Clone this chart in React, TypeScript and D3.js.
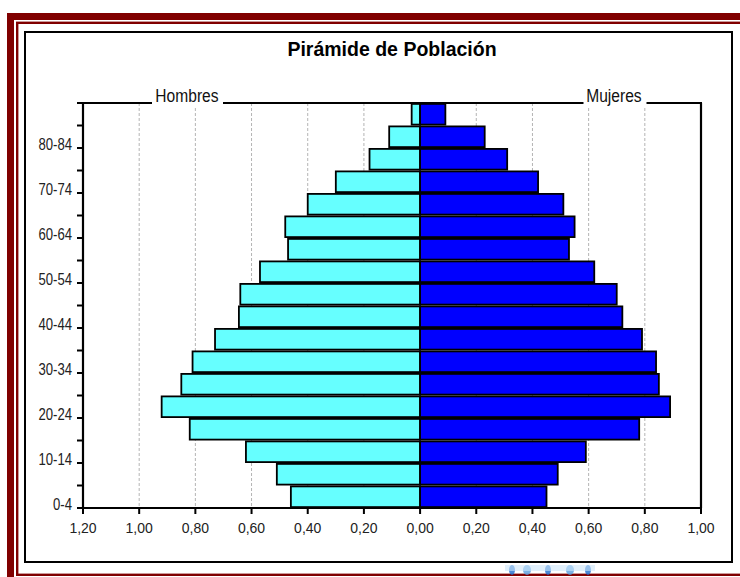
import React from "react";
import * as d3 from "d3";

// grupos de edad, de abajo hacia arriba
const ages = [
  "0-4", "5-9", "10-14", "15-19", "20-24", "25-29", "30-34", "35-39", "40-44",
  "45-49", "50-54", "55-59", "60-64", "65-69", "70-74", "75-79", "80-84", "85+",
];
const hombres = [0.46, 0.51, 0.62, 0.82, 0.92, 0.85, 0.81, 0.73, 0.645, 0.64, 0.57, 0.47, 0.48, 0.4, 0.3, 0.18, 0.11, 0.03];
const mujeres = [0.45, 0.49, 0.59, 0.78, 0.89, 0.85, 0.84, 0.79, 0.72, 0.7, 0.62, 0.53, 0.55, 0.51, 0.42, 0.31, 0.23, 0.09];
const xTicks = [-1.2, -1, -0.8, -0.6, -0.4, -0.2, 0, 0.2, 0.4, 0.6, 0.8, 1];

const W = 740;
const H = 577;
const left = 83;
const right = 701;
const top = 103;
const bottom = 508;

const fmt = (v: number) => Math.abs(v).toFixed(2).replace(".", ",");

const arial = "'Liberation Sans', Arial, sans-serif";

// texto "estrecho" (tipo Arial Narrow) escalando en horizontal
const Narrow: React.FC<{ x: number; y: number; size: number; anchor: string; children: string; fill?: string }> = ({
  x,
  y,
  size,
  anchor,
  children,
  fill = "#222",
}) => (
  <g transform={`translate(${x},${y}) scale(0.82,1)`}>
    <text textAnchor={anchor} fontFamily={arial} fontSize={size} fill={fill}>
      {children}
    </text>
  </g>
);

const App: React.FC = () => {
  const x = d3.scaleLinear().domain([-1.2, 1.0]).range([left, right]);
  const y = d3
    .scaleBand<string>()
    .domain(ages)
    .range([bottom, top])
    .paddingInner(0.08)
    .paddingOuter(0.04);
  const edge = d3.scaleLinear().domain([0, ages.length]).range([bottom, top]);

  return (
    <svg width={W} height={H} style={{ position: "absolute", left: 0, top: 0, background: "#fff" }}>
      {/* marco rojo */}
      <rect x={10.5} y={16.5} width={W + 20} height={H + 20} fill="none" stroke="#800000" strokeWidth={7} />
      <rect x={17.2} y={22.8} width={W + 20} height={552} fill="none" stroke="#800000" strokeWidth={2.4} />
      {/* trozo de logo asomando por abajo */}
      <g opacity={0.8}>
        {[512, 527, 548, 570, 588].map((cx, i) => (
          <ellipse key={i} cx={cx} cy={570} rx={i % 2 ? 4 : 3} ry={5} fill={i % 2 ? "#5aa0e0" : "#1f6fd0"} />
        ))}
        <rect x={505} y={565} width={90} height={6} fill="#bfe0f8" opacity={0.6} />
      </g>
      {/* caja del gráfico */}
      <rect x={25} y={32} width={707} height={530} fill="#fff" stroke="#000" strokeWidth={2} />

      <text
        x={(left + right) / 2}
        y={56}
        textAnchor="middle"
        fontFamily={arial}
        fontWeight="bold"
        fontSize={19.5}
        fill="#000"
      >
        Pirámide de Población
      </text>

      {/* rejilla */}
      {xTicks
        .filter((t) => t !== -1.2 && t !== 1 && t !== 0)
        .map((t) => (
          <line
            key={`g${t}`}
            x1={x(t)}
            x2={x(t)}
            y1={top}
            y2={bottom}
            stroke="#b4b4b4"
            strokeWidth={1}
            strokeDasharray="3,2"
          />
        ))}

      {/* barras */}
      {ages.map((a, i) => (
        <g key={a}>
          <rect
            x={x(-hombres[i])}
            y={y(a)!}
            width={x(0) - x(-hombres[i])}
            height={y.bandwidth()}
            fill="#66ffff"
            stroke="#000"
            strokeWidth={1.8}
          />
          <rect
            x={x(0)}
            y={y(a)!}
            width={x(mujeres[i]) - x(0)}
            height={y.bandwidth()}
            fill="#0000ff"
            stroke="#000"
            strokeWidth={1.8}
          />
        </g>
      ))}

      {/* ejes */}
      <line x1={left} x2={left} y1={top} y2={bottom} stroke="#000" strokeWidth={2.2} />
      <line x1={right} x2={right} y1={top} y2={bottom} stroke="#000" strokeWidth={2.2} />
      <line x1={left - 6} x2={right + 1} y1={bottom} y2={bottom} stroke="#000" strokeWidth={2.2} />
      <line x1={left - 6} x2={right + 1} y1={top} y2={top} stroke="#000" strokeWidth={2.2} />
      {d3.range(ages.length + 1).map((i) => (
        <line key={`yt${i}`} x1={left - 6} x2={left} y1={edge(i)} y2={edge(i)} stroke="#000" strokeWidth={2} />
      ))}
      {ages.map((a, i) =>
        i % 2 === 0 ? (
          <Narrow key={`yl${a}`} x={left - 11} y={edge(i) + 1.5} size={16} anchor="end">
            {a}
          </Narrow>
        ) : null
      )}
      {xTicks.map((t) => (
        <g key={`xt${t}`}>
          <line x1={x(t)} x2={x(t)} y1={bottom} y2={bottom + 6} stroke="#000" strokeWidth={2} />
          <text x={x(t)} y={533} textAnchor="middle" fontFamily={arial} fontSize={14} fill="#222">
            {fmt(t)}
          </text>
        </g>
      ))}

      {/* rótulos Hombres / Mujeres sobre la línea superior */}
      <rect x={152} y={84} width={71} height={22} fill="#fff" />
      <Narrow x={x(-0.83)} y={102} size={19} anchor="middle" fill="#111">
        Hombres
      </Narrow>
      <rect x={583.5} y={84} width={63} height={22} fill="#fff" />
      <Narrow x={x(0.69)} y={102} size={19} anchor="middle" fill="#111">
        Mujeres
      </Narrow>
    </svg>
  );
};

export default App;
